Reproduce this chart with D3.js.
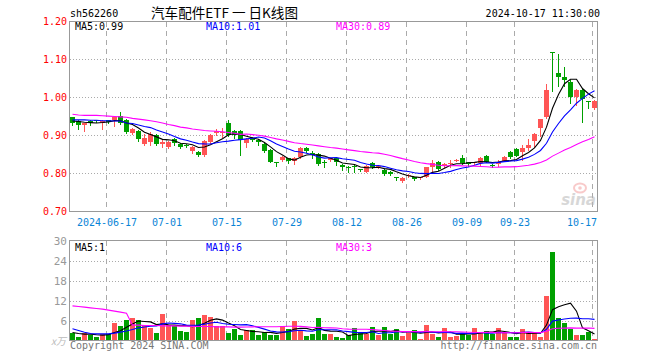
<!DOCTYPE html>
<html><head><meta charset="utf-8">
<script src="https://cdn.jsdelivr.net/npm/d3@7"></script>
<style>body{margin:0;background:#fff}svg{display:block}</style>
</head><body>
<svg id="c" width="660" height="360"></svg>
<script>
// ---------- data ----------
const dates = [
"2024-06-06","2024-06-07","2024-06-11","2024-06-12","2024-06-13","2024-06-14",
"2024-06-17","2024-06-18","2024-06-19","2024-06-20","2024-06-21",
"2024-06-24","2024-06-25","2024-06-26","2024-06-27","2024-06-28",
"2024-07-01","2024-07-02","2024-07-03","2024-07-04","2024-07-05",
"2024-07-08","2024-07-09","2024-07-10","2024-07-11","2024-07-12",
"2024-07-15","2024-07-16","2024-07-17","2024-07-18","2024-07-19",
"2024-07-22","2024-07-23","2024-07-24","2024-07-25","2024-07-26",
"2024-07-29","2024-07-30","2024-07-31","2024-08-01","2024-08-02",
"2024-08-05","2024-08-06","2024-08-07","2024-08-08","2024-08-09",
"2024-08-12","2024-08-13","2024-08-14","2024-08-15","2024-08-16",
"2024-08-19","2024-08-20","2024-08-21","2024-08-22","2024-08-23",
"2024-08-26","2024-08-27","2024-08-28","2024-08-29","2024-08-30",
"2024-09-02","2024-09-03","2024-09-04","2024-09-05","2024-09-06",
"2024-09-09","2024-09-10","2024-09-11","2024-09-12","2024-09-13",
"2024-09-18","2024-09-19","2024-09-20",
"2024-09-23","2024-09-24","2024-09-25","2024-09-26","2024-09-27","2024-09-30",
"2024-10-08","2024-10-09","2024-10-10","2024-10-11",
"2024-10-14","2024-10-15","2024-10-16","2024-10-17"];

const open = [.948,.939,.927,.938,.940,.933,.940,.941,.951,.941, .906,.912,.878,.882,.901,.878,.871,.890,.878,.875,
 .858,.857,.849,.882,.906,.906,.932,.912,.912,.880, .893,.888,.878,.862,.830,.836,.840,.834,.843,.868,
 .854,.851,.831,.836,.840,.822,.818,.820,.812,.805, .827,.817,.809,.803,.790,.780,.793,.790,.787,.792,
 .816,.830,.820,.826,.834,.840,.829,.827,.827,.846, .823,.825,.834,.856,.865,.856,.867,.886,.921,.949,
 1.120,1.065,1.053,1.042,1.002,1.020,.990,.972];
const close = [.932,.928,.932,.934,.939,.938,.936,.949,.932,.910, .917,.890,.893,.904,.878,.884,.884,.880,.871,.872,
 .871,.849,.886,.901,.912,.910,.901,.901,.888,.891, .888,.883,.858,.831,.828,.844,.833,.840,.868,.859,
 .850,.825,.827,.840,.831,.816,.814,.817,.808,.820, .818,.819,.799,.798,.788,.789,.796,.785,.790,.816,
 .828,.811,.825,.828,.836,.828,.825,.829,.840,.831, .820,.831,.844,.844,.846,.868,.875,.904,.943,1.020,
 1.117,1.055,1.046,1.002,1.020,.995,.987,.991];
const high = [.950,.941,.934,.941,.942,.940,.942,.951,.963,.944, .919,.914,.903,.908,.905,.887,.886,.893,.880,.877,
 .873,.859,.889,.903,.916,.920,.941,.914,.914,.893, .895,.890,.880,.864,.830,.846,.842,.844,.870,.870,
 .859,.853,.836,.842,.842,.824,.820,.822,.813,.822, .830,.822,.812,.806,.791,.791,.799,.792,.792,.818,
 .835,.832,.827,.836,.838,.849,.830,.831,.843,.848, .824,.835,.846,.858,.867,.875,.891,.906,.944,1.036,
 1.121,1.115,1.080,1.045,1.022,1.022,.990,.993];
const low = [.927,.918,.913,.928,.936,.917,.932,.924,.929,.907, .903,.886,.875,.876,.874,.869,.866,.874,.867,.869,
 .855,.846,.846,.880,.901,.897,.899,.893,.849,.870, .885,.874,.856,.829,.820,.833,.828,.825,.840,.856,
 .842,.822,.818,.834,.822,.809,.805,.805,.806,.803, .815,.815,.797,.795,.783,.778,.792,.783,.786,.790,
 .807,.809,.818,.818,.833,.825,.820,.825,.822,.829, .818,.820,.832,.842,.845,.836,.862,.871,.899,.947,
 1.018,1.030,1.030,.986,.980,.936,.972,.970];
const volume = [2.4,1.2,2.1,1.7,1.2,1.9,1.9,5.4,4.3,6.3, 6.9,6.3,4.7,3.7,2.3,8.0,4.7,4.3,2.8,2.5,
 6.3,6.7,7.7,7.2,4.5,4.5,2.3,3.6,1.6,3.1, 3.1,1.7,2.5,1.8,1.6,4.3,3.4,6.0,3.1,1.4,
 1.9,6.9,1.9,1.9,1.2,0.8,1.5,3.7,2.5,1.9, 4.0,1.8,4.0,1.9,3.4,1.4,2.4,3.1,0.5,4.8,
 1.9,1.1,3.7,1.2,1.4,1.9,1.6,3.7,2.6,2.8, 1.9,3.7,2.4,1.2,1.2,3.4,2.5,2.5,1.2,13.5,
 26.6,6.9,5.4,3.5,1.6,1.6,2.5,0.5];

// moving-average values for days whose window starts before the chart
const ma5Head  = [.938,.937,.935,.934];
const ma10Head = [.941,.941,.941,.940,.940,.939,.939,.938,.938];
const ma30Head = [.956,.954,.953,.953,.953,.952,.951,.950,.949,.948,.945,.943,.941,.939,.936,.933,.929,.926,.922,.920,.917,.915,.913,.912,.911,.910,.908,.906,.903];
const vma5Head  = [2.4,2.1,1.9,1.9];
const vma10Head = [3.5,3.0,2.5,2.1,2.0,2.0,2.0,2.2,2.5];
const vma30Head = [10.4,10.2,10.0,9.8,9.6,9.4,9.1,8.8,8.5,8.2,4.6,4.6,4.5,4.5,4.5,4.4,4.4,4.4,4.3,4.3,4.2,4.2,4.2,4.2,4.1,4.1,4.1,4.0,4.0];

const tickDates  = ["2024-06-17","2024-07-01","2024-07-15","2024-07-29","2024-08-12","2024-08-26","2024-09-09","2024-09-23","2024-10-17"];
const tickLabels = ["2024-06-17","07-01","07-15","07-29","08-12","08-26","09-09","09-23","10-17"];
const priceTicks = [0.70,0.80,0.90,1.00,1.10,1.20];
const volTicks   = [6,12,18,24,30];
const priceLegend = ["MA5:0.99","MA10:1.01","MA30:0.89"];
const volLegend   = ["MA5:1","MA10:6","MA30:3"];
const code = "sh562260";
const title = "汽车配件ETF 一 日K线图";
const stamp = "2024-10-17 11:30:00";

// ---------- drawing ----------
const svg = d3.select("#c");
const mono = "'DejaVu Sans Mono', monospace";
const RED = "#ff5555", GREEN = "#00a000", GRID = "#aaaaaa";
const maColors = ["#000000","#0000ff","#ff00ff"];

const x = d3.scaleBand().domain(dates).range([70,598]).padding(0);
const yP = d3.scaleLinear().domain([0.70,1.20]).range([211.5,21.5]);
const yV = d3.scaleLinear().domain([0,30]).range([340.5,240.5]);
const L = 69.5, R = 597.5;

function ma(arr, n, head){
  return arr.map((v,i)=> i < n-1 ? head[i] : d3.mean(arr.slice(i-n+1,i+1)));
}

// header
svg.append("text").attr("x",70).attr("y",17).attr("font-family",mono).attr("font-size",10).attr("fill","#000").text(code);
svg.append("text").attr("x",151).attr("y",17.5).attr("font-family","'Noto Sans CJK SC',sans-serif").attr("font-size",13.5)
  .attr("textLength",147).attr("lengthAdjust","spacingAndGlyphs").attr("fill","#000").text(title);
svg.append("text").attr("x",600).attr("y",17).attr("text-anchor","end").attr("font-family",mono).attr("font-size",10).attr("fill","#000").text(stamp);

function panelGrid(top, bottom, hTicks, yS){
  const g = svg.append("g").attr("shape-rendering","crispEdges");
  g.selectAll("line.h").data(hTicks).join("line")
    .attr("x1",L).attr("x2",R).attr("y1",d=>Math.round(yS(d))+0.5).attr("y2",d=>Math.round(yS(d))+0.5)
    .attr("stroke",GRID).attr("stroke-dasharray","1,2");
  g.selectAll("line.v").data(tickDates).join("line")
    .attr("x1",d=>x(d)+0.5).attr("x2",d=>x(d)+0.5).attr("y1",top).attr("y2",bottom)
    .attr("stroke",GRID).attr("stroke-dasharray","5,4");
}
panelGrid(21.5, 211.5, [0.80,0.90,1.00,1.10], yP);
panelGrid(240.5, 340.5, [6,12,18,24], yV);

// sina watermark
const wm = svg.append("g").attr("opacity",0.55);
wm.append("ellipse").attr("cx",580).attr("cy",188).attr("rx",6).attr("ry",4.5).attr("fill","none").attr("stroke","#f4a0a0").attr("stroke-width",2);
wm.append("circle").attr("cx",580).attr("cy",188).attr("r",1.8).attr("fill","#f4a0a0");
wm.append("text").attr("x",596).attr("y",205).attr("text-anchor","end").attr("font-family","'DejaVu Sans',sans-serif")
  .attr("font-style","italic").attr("font-weight","bold").attr("font-size",15).attr("fill","#b8b8b8").text("sina");

// candles
const idx = d3.range(dates.length);
const cg = svg.append("g").attr("shape-rendering","crispEdges");
cg.selectAll("line.w").data(idx).join("line")
  .attr("x1",i=>x(dates[i])+2.5).attr("x2",i=>x(dates[i])+2.5)
  .attr("y1",i=>Math.round(yP(high[i]))).attr("y2",i=>Math.round(yP(low[i]))+1)
  .attr("stroke",i=>close[i]>=open[i]?RED:GREEN);
cg.selectAll("rect").data(idx).join("rect")
  .attr("x",i=>x(dates[i])).attr("width",x.bandwidth()-1)
  .attr("y",i=>Math.round(yP(Math.max(open[i],close[i]))))
  .attr("height",i=>Math.max(1,Math.round(yP(Math.min(open[i],close[i])))-Math.round(yP(Math.max(open[i],close[i])))))
  .attr("fill",i=>close[i]>=open[i]?RED:GREEN);

// price MAs
const pMA = [ma(close,5,ma5Head), ma(close,10,ma10Head), ma(close,30,ma30Head)];
const lineP = d3.line().x((v,i)=>x(dates[i])+2.5).y(v=>yP(v));
pMA.forEach((s,k)=> svg.append("path").attr("d",lineP(s)).attr("fill","none").attr("stroke",maColors[k]).attr("stroke-width",1.1));

// volume bars
const vg = svg.append("g").attr("shape-rendering","crispEdges");
vg.selectAll("rect").data(idx).join("rect")
  .attr("x",i=>x(dates[i])).attr("width",x.bandwidth()-1)
  .attr("y",i=>Math.round(yV(volume[i])))
  .attr("height",i=>340-Math.round(yV(volume[i])))
  .attr("fill",i=>close[i]>=open[i]?RED:GREEN);
const vMA = [ma(volume,5,vma5Head), ma(volume,10,vma10Head), ma(volume,30,vma30Head)];
const lineV = d3.line().x((v,i)=>x(dates[i])+2.5).y(v=>yV(v));
vMA.forEach((s,k)=> svg.append("path").attr("d",lineV(s)).attr("fill","none").attr("stroke",maColors[k]).attr("stroke-width",1.1));

// borders
svg.append("rect").attr("x",L).attr("y",21.5).attr("width",R-L).attr("height",190).attr("fill","none").attr("stroke","#999").attr("shape-rendering","crispEdges");
svg.append("rect").attr("x",L).attr("y",240.5).attr("width",R-L).attr("height",100).attr("fill","none").attr("stroke","#999").attr("shape-rendering","crispEdges");

// axes
const ay = svg.append("g").attr("transform","translate(67,0)")
  .call(d3.axisLeft(yP).tickValues(priceTicks).tickFormat(d3.format(".2f")).tickSize(0).tickPadding(0));
ay.select(".domain").remove();
ay.selectAll("text").attr("font-family",mono).attr("font-size",10).attr("fill","#ff0000");

const av = svg.append("g").attr("transform","translate(67,0)")
  .call(d3.axisLeft(yV).tickValues(volTicks).tickFormat(d3.format("d")).tickSize(0).tickPadding(0));
av.select(".domain").remove();
av.selectAll("text").attr("font-family",mono).attr("font-size",11).attr("fill","#999");
svg.append("text").attr("x",66).attr("y",345).attr("text-anchor","end").attr("font-family","'Noto Sans CJK SC',sans-serif")
  .attr("font-size",10).attr("font-style","italic").attr("fill","#bbb").text("x万");

const ax = svg.append("g").attr("transform","translate(0,217)")
  .call(d3.axisBottom(x).tickValues(tickDates).tickFormat((d,i)=>tickLabels[i]).tickSize(0).tickPadding(0));
ax.select(".domain").remove();
ax.selectAll("text").attr("font-family",mono).attr("font-size",10).attr("fill","#0a84d6").attr("dy","0.85em")
  .attr("text-anchor",(d,i)=> i===tickDates.length-1 ? "end" : "middle")
  .attr("x",(d,i)=> i===tickDates.length-1 ? 2 : -2);

// legends
const legX = [75,206,336];
priceLegend.forEach((t,k)=> svg.append("text").attr("x",legX[k]).attr("y",30).attr("font-family",mono).attr("font-size",10).attr("fill",maColors[k]).text(t));
volLegend.forEach((t,k)=> svg.append("text").attr("x",legX[k]).attr("y",251).attr("font-family",mono).attr("font-size",10).attr("fill",maColors[k]).text(t));

// footer
svg.append("text").attr("x",70).attr("y",349).attr("font-family",mono).attr("font-size",10).attr("fill","#777").text("Copyright 2024 SINA.COM");
svg.append("text").attr("x",597).attr("y",349).attr("text-anchor","end").attr("font-family",mono).attr("font-size",10).attr("fill","#777").text("http://finance.sina.com.cn");
</script>
</body></html>
